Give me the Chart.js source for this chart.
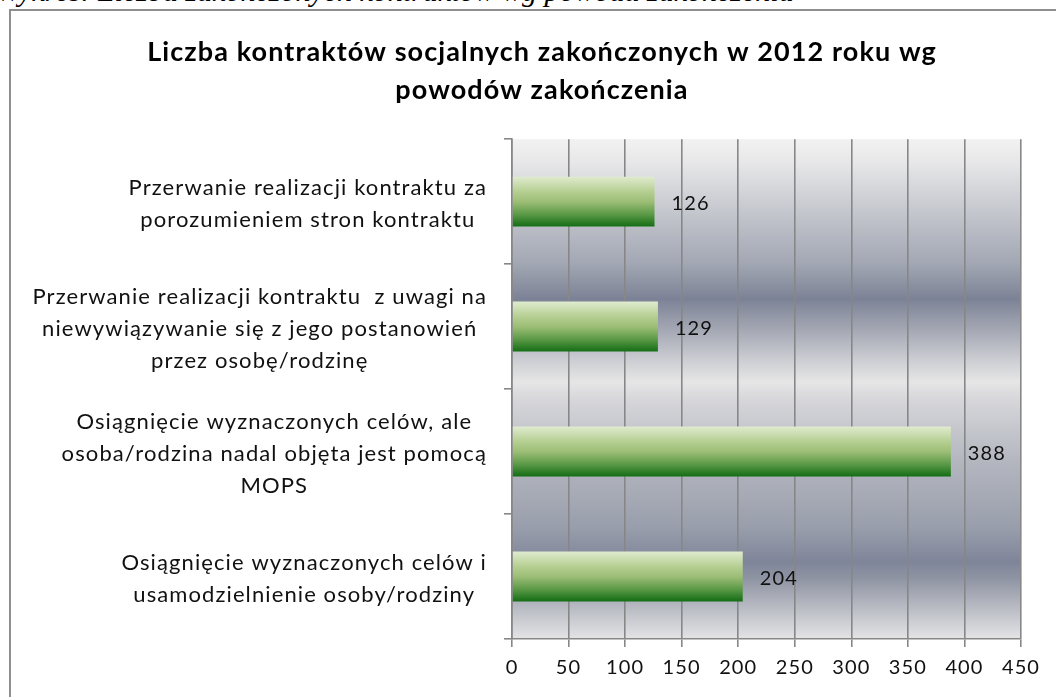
<!DOCTYPE html>
<html>
<head>
<meta charset="utf-8">
<script src="https://cdn.jsdelivr.net/npm/chart.js@4/dist/chart.umd.min.js"></script>
<style>
  html, body { margin: 0; padding: 0; background: #fff; overflow: hidden; width: 1056px; height: 697px; }
  #caption { position: absolute; left: -4px; top: -24px; font: italic 30px "Liberation Serif", serif; line-height: 30px; color: #000; white-space: nowrap; }
  #frame { position: absolute; left: 9px; top: 9px; border-left: 2px solid #8f8f8f; border-top: 2px solid #8f8f8f; width: 1062px; height: 700px; }
  canvas { display: block; }
</style>
</head>
<body>
<div id="caption">Wykres: Liczba zakończonych kontraktów wg powodu zakończenia</div>
<div id="frame"><canvas id="chart" width="1062" height="700"></canvas></div>
<script>
// Data (top to bottom)
const categories = [
    ['Przerwanie realizacji kontraktu za', 'porozumieniem stron kontraktu'],
    ['Przerwanie realizacji kontraktu  z uwagi na', 'niewywiązywanie się z jego postanowień', 'przez osobę/rodzinę'],
    ['Osiągnięcie wyznaczonych celów, ale', 'osoba/rodzina nadal objęta jest pomocą', 'MOPS'],
    ['Osiągnięcie wyznaczonych celów i', 'usamodzielnienie osoby/rodziny']
];
const values = [126, 129, 388, 204];
const xTicks = [0, 50, 100, 150, 200, 250, 300, 350, 400, 450];
const titleLines = ['Liczba kontraktów socjalnych zakończonych w 2012 roku wg', 'powodów zakończenia'];

const FONT = 'Lato';
const BAR_FRACTION = 0.4;

// wider letter spacing, closer to the original ClearType look
const spacing = {
    id: 'spacing',
    beforeDraw(chart) {
        chart.ctx.letterSpacing = '1.1px';
    }
};

// silver banded background behind the plot
const plotBackground = {
    id: 'plotBackground',
    beforeDraw(chart) {
        const { ctx, chartArea: a } = chart;
        const g = ctx.createLinearGradient(0, a.top, 0, a.bottom);
        [
            [0, '#f2f2f2'], [0.05, '#e6e6e8'], [0.114, '#cfd1d6'], [0.18, '#b9bcc5'],
            [0.246, '#a3a8b4'], [0.28, '#9297a6'], [0.32, '#7c8296'], [0.34, '#8a8fa0'],
            [0.38, '#a3a7b3'], [0.446, '#cfd0d5'], [0.486, '#e6e6e6'], [0.514, '#d9d9dc'],
            [0.58, '#c5c7cd'], [0.646, '#b3b6bf'], [0.714, '#a6aab5'], [0.78, '#989dab'],
            [0.846, '#7f8599'], [0.88, '#9095a4'], [0.946, '#bfc1c8'], [1, '#e4e4e6']
        ].forEach(([s, c]) => g.addColorStop(s, c));
        ctx.save();
        ctx.fillStyle = g;
        ctx.fillRect(a.left, a.top, a.right - a.left, a.bottom - a.top);
        ctx.restore();
    }
};

// category labels: each block centered on itself, block right-aligned to the axis
const categoryLabels = {
    id: 'categoryLabels',
    afterDraw(chart) {
        const ctx = chart.ctx;
        const y = chart.scales.y;
        const lh = 32;
        ctx.save();
        ctx.font = '22px ' + FONT;
        ctx.fillStyle = '#111';
        ctx.textAlign = 'center';
        ctx.textBaseline = 'middle';
        categories.forEach((lines, i) => {
            const yc = y.getPixelForValue(i) + 2;
            const maxW = Math.max(...lines.map(l => ctx.measureText(l).width));
            const cx = y.right - 25 - maxW / 2;
            const top = yc - (lines.length - 1) * lh / 2;
            lines.forEach((l, j) => ctx.fillText(l, cx, top + j * lh));
        });
        ctx.restore();
    }
};

// value labels to the right of each bar
const valueLabels = {
    id: 'valueLabels',
    afterDatasetsDraw(chart) {
        const ctx = chart.ctx;
        const meta = chart.getDatasetMeta(0);
        ctx.save();
        ctx.font = '20px ' + FONT;
        ctx.fillStyle = '#111';
        ctx.textAlign = 'left';
        ctx.textBaseline = 'middle';
        meta.data.forEach((el, i) => {
            ctx.fillText(String(values[i]), el.x + 17, el.y + 2);
        });
        ctx.restore();
    }
};

function barGradient(context) {
    const chart = context.chart;
    if (!chart.chartArea || context.dataIndex === undefined) return '#7fae5a';
    const yScale = chart.scales.y;
    const yc = yScale.getPixelForValue(context.dataIndex);
    const half = (yScale.height / categories.length) * BAR_FRACTION / 2;
    const g = chart.ctx.createLinearGradient(0, yc - half, 0, yc + half);
    g.addColorStop(0, '#e0ebcf');
    g.addColorStop(0.3, '#b5cf92');
    g.addColorStop(0.5, '#9dbe76');
    g.addColorStop(0.75, '#5c9a48');
    g.addColorStop(1, '#136d14');
    return g;
}

new Chart(document.getElementById('chart'), {
    type: 'bar',
    data: {
        labels: categories,
        datasets: [{
            data: values,
            backgroundColor: barGradient,
            borderWidth: 0,
            barPercentage: 0.8,
            categoryPercentage: 0.5
        }]
    },
    options: {
        indexAxis: 'y',
        responsive: false,
        animation: false,
        events: [],
        layout: { padding: { left: 52, right: 52, top: 0, bottom: 12 } },
        plugins: {
            legend: { display: false },
            tooltip: { enabled: false },
            title: {
                display: true,
                text: titleLines,
                color: '#000',
                font: { family: FONT, size: 27, weight: 'bold', lineHeight: 1.41 },
                padding: { top: 22, bottom: 30 }
            }
        },
        scales: {
            x: {
                min: 0,
                max: 450,
                afterBuildTicks(scale) { scale.ticks = xTicks.map(v => ({ value: v })); },
                afterFit(scale) { scale.height = 60; },
                grid: { color: '#878787', lineWidth: 1.6, tickLength: 8 },
                border: { color: '#878787', width: 1.6 },
                ticks: { color: '#111', font: { family: FONT, size: 20 }, padding: 9 }
            },
            y: {
                afterFit(scale) { scale.width = 449; },
                grid: { offset: true, drawOnChartArea: false, tickLength: 8, color: '#878787', lineWidth: 1.6 },
                border: { color: '#878787', width: 1.6 },
                ticks: { display: false }
            }
        }
    },
    plugins: [spacing, plotBackground, categoryLabels, valueLabels]
});
</script>
</body>
</html>
